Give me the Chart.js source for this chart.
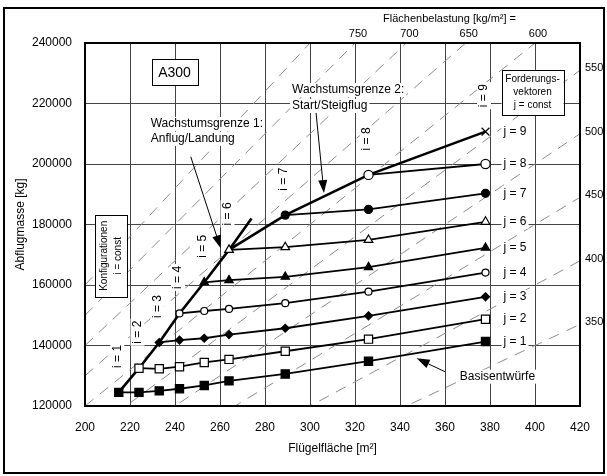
<!DOCTYPE html>
<html>
<head>
<meta charset="utf-8">
<script src="https://cdn.jsdelivr.net/npm/chart.js"></script>
<style>
  body { margin: 0; background: #fff; }
  #wrap { width: 607px; height: 476px; position: relative; }
</style>
</head>
<body>
<div id="wrap"><canvas id="grafico"></canvas></div>
<script>
// Konfigurationen i = 1..9 (Flügelfläche in m²)
const flaeche = [215, 224, 233, 242, 253, 264, 289, 326, 378];
// Abflugmasse je Forderungsvektor j (kg)
const masseJ1 = [124500, 124500, 125000, 125700, 126800, 128300, 130600, 134800, 141300];
const masseJ2 = [null, 132500, 132300, 133000, 134400, 135400, 138100, 142100, 148700];
const masseJ3 = [null, null, 141000, 141800, 142400, 143600, 145700, 149800, 156100];
const masseJ4 = [null, null, null, 150600, 151400, 152100, 154000, 157800, 164100];
const masseJ5 = [null, null, null, null, 160900, 161600, 162700, 165900, 172300];
const masseJ6 = [null, null, null, null, null, 171600, 172500, 174900, 180900];
const masseJ7 = [null, null, null, null, null, null, 183100, 185000, 190300];
const masseJ8 = [null, null, null, null, null, null, null, 196400, 200000];
const masseJ9 = [null, null, null, null, null, null, null, null, 210700];
// Wachstumsgrenzen
const grenze1S = [215, 224, 233, 242, 253, 264, 274];
const grenze1M = [124500, 132500, 141000, 150600, 160900, 171600, 182000];
const grenze2S = [264, 289, 326, 378];
const grenze2M = [171600, 183100, 196400, 210700];
// Flächenbelastung kg/m² (gestrichelte Linien)
const belastungen = [350, 400, 450, 500, 550, 600, 650, 700, 750, 800];
const belastungOben = [750, 700, 650, 600];
const belastungRechts = [550, 500, 450, 400, 350];
// Achsen
const xTicks = [200, 220, 240, 260, 280, 300, 320, 340, 360, 380, 400, 420];
const yTicks = [120000, 140000, 160000, 180000, 200000, 220000, 240000];

const FONT = "'Liberation Sans', Arial, sans-serif";
const serien = [masseJ1, masseJ2, masseJ3, masseJ4, masseJ5, masseJ6, masseJ7, masseJ8, masseJ9];
const marker = [
  { style: "rect", r: 5.8, voll: true },
  { style: "rect", r: 5.8, voll: false },
  { style: "rectRot", r: 4, voll: true },
  { style: "circle", r: 3.5, voll: false },
  { style: "triangle", r: 4.8, voll: true },
  { style: "triangle", r: 5, voll: false },
  { style: "circle", r: 4, voll: true },
  { style: "circle", r: 4.6, voll: false },
  { style: "crossRot", r: 5.5, voll: false },
];

//datasets
const jLinien = serien.map((werte, k) => ({
  label: "j = " + (k + 1),
  data: flaeche.map((s, i) => ({ x: s, y: werte[i] })).filter((p) => p.y !== null),
  borderColor: "#000",
  borderWidth: 1.8,
  pointStyle: marker[k].style,
  pointRadius: marker[k].r,
  pointBackgroundColor: marker[k].voll ? "#000" : "#fff",
  pointBorderColor: "#000",
  pointBorderWidth: 1.2,
  order: 1,
}));

const grenzLinien = [
  [grenze1S, grenze1M],
  [grenze2S, grenze2M],
].map(([sx, my]) => ({
  data: sx.map((s, i) => ({ x: s, y: my[i] })),
  borderColor: "#000",
  borderWidth: 2.6,
  pointRadius: 0,
  order: 2,
}));

const gestrichelt = belastungen.map((w) => ({
  data: [
    { x: 200, y: w * 200 },
    { x: 420, y: w * 420 },
  ],
  borderColor: "#8c8c8c",
  borderWidth: 1,
  borderDash: [11, 8],
  pointRadius: 0,
  order: 3,
}));

//texto con fondo blanco
const textWeiss = (ctx, txt, px, py, align) => {
  const w = ctx.measureText(txt).width;
  const h = parseFloat(ctx.font.match(/([\d.]+)px/)[1]);
  const left = align === "left" ? px : align === "right" ? px - w : px - w / 2;
  ctx.fillStyle = "#fff";
  ctx.fillRect(left - 2, py - h / 2 - 1, w + 4, h + 2);
  ctx.fillStyle = "#000";
  ctx.textAlign = align;
  ctx.textBaseline = "middle";
  ctx.fillText(txt, px, py);
};

const pfeil = (ctx, x0, y0, x1, y1) => {
  const ang = Math.atan2(y1 - y0, x1 - x0);
  const len = 13, hw = 4.5;
  ctx.strokeStyle = "#000";
  ctx.lineWidth = 1;
  ctx.beginPath();
  ctx.moveTo(x0, y0);
  ctx.lineTo(x1 - Math.cos(ang) * len, y1 - Math.sin(ang) * len);
  ctx.stroke();
  ctx.fillStyle = "#000";
  ctx.beginPath();
  ctx.moveTo(x1, y1);
  ctx.lineTo(x1 - Math.cos(ang) * len - Math.sin(ang) * hw, y1 - Math.sin(ang) * len + Math.cos(ang) * hw);
  ctx.lineTo(x1 - Math.cos(ang) * len + Math.sin(ang) * hw, y1 - Math.sin(ang) * len - Math.cos(ang) * hw);
  ctx.closePath();
  ctx.fill();
};

const box = (ctx, cx, cy, w, h) => {
  ctx.fillStyle = "#fff";
  ctx.fillRect(cx - w / 2, cy - h / 2, w, h);
  ctx.strokeStyle = "#000";
  ctx.lineWidth = 1;
  ctx.strokeRect(Math.round(cx - w / 2) + 0.5, Math.round(cy - h / 2) + 0.5, w, h);
};

const anotaciones = {
  id: "anotaciones",
  afterDatasetsDraw(chart) {
    const { ctx, chartArea: a, scales } = chart;
    const px = (s) => scales.x.getPixelForValue(s);
    const py = (m) => scales.y.getPixelForValue(m);
    ctx.save();

    // j labels
    ctx.font = `12px ${FONT}`;
    serien.forEach((werte, k) => {
      textWeiss(ctx, "j = " + (k + 1), px(flaeche[8]) + 18, py(werte[8]), "left");
    });

    // i labels (rotated)
    flaeche.forEach((s, i) => {
      const start = serien[i][i];
      ctx.save();
      ctx.translate(px(s) - 1.5, py(start) - 36);
      ctx.rotate(-Math.PI / 2);
      textWeiss(ctx, "i = " + (i + 1), 0, 0, "center");
      ctx.restore();
    });

    // Wachstumsgrenzen text
    textWeiss(ctx, "Wachstumsgrenze 1:", px(229.2), py(213200), "left");
    textWeiss(ctx, "Anflug/Landung", px(229.2), py(208300), "left");
    textWeiss(ctx, "Wachstumsgrenze 2:", px(292), py(224460), "left");
    textWeiss(ctx, "Start/Steigflug", px(292), py(219170), "left");
    textWeiss(ctx, "Basisentwürfe", px(383.3), py(129680), "center");

    // arrows
    pfeil(ctx, px(247), py(202400), px(260.3), py(172130));
    pfeil(ctx, px(302.7), py(216860), px(306.2), py(190410));
    pfeil(ctx, px(360), py(131330), px(347.4), py(135760));

    // A300
    box(ctx, px(239.8), py(230400), 46, 26);
    ctx.font = `14px ${FONT}`;
    ctx.fillStyle = "#000";
    ctx.textAlign = "center";
    ctx.textBaseline = "middle";
    ctx.fillText("A300", px(239.8), py(230400) + 1);

    // Forderungsvektoren
    const fx = px(398.9), fy = py(223640);
    box(ctx, fx, fy, 62, 45);
    ctx.font = `10px ${FONT}`;
    ctx.fillStyle = "#000";
    ctx.fillText("Forderungs-", fx, fy - 13);
    ctx.fillText("vektoren", fx, fy);
    ctx.fillText("j = const", fx, fy + 13);

    // Konfigurationen
    const kx = px(211.5), ky = py(169650);
    box(ctx, kx, ky, 32, 82);
    ctx.save();
    ctx.translate(kx, ky);
    ctx.rotate(-Math.PI / 2);
    ctx.fillStyle = "#000";
    ctx.font = `10px ${FONT}`;
    ctx.fillText("Konfigurationen", 0, -7);
    ctx.fillText("i = const", 0, 7);
    ctx.restore();

    // Flächenbelastung labels
    ctx.font = `11px ${FONT}`;
    ctx.fillStyle = "#000";
    ctx.textAlign = "center";
    ctx.textBaseline = "middle";
    belastungOben.forEach((w) => {
      ctx.fillText(String(w), px(240000 / w) + 3, a.top - 9);
    });
    ctx.fillText("Flächenbelastung [kg/m²] =", px(362), a.top - 24);
    ctx.textAlign = "left";
    belastungRechts.forEach((w) => {
      ctx.fillText(String(w), a.right + 5, py(w * 420) - 2);
    });

    // frames
    ctx.strokeStyle = "#000";
    ctx.lineWidth = 2;
    ctx.strokeRect(a.left, a.top, a.right - a.left, a.bottom - a.top);
    ctx.strokeRect(4, 8, 600, 465);
    ctx.restore();
  },
};

const grafico = document.getElementById("grafico");
const chart = new Chart(grafico, {
  type: "line",
  data: { datasets: [...jLinien, ...grenzLinien, ...gestrichelt] },
  options: {
    responsive: true,
    maintainAspectRatio: false,
    animation: false,
    events: [],
    layout: { padding: { left: 5, top: 43, right: 27, bottom: 5 } },
    plugins: { legend: { display: false }, tooltip: { enabled: false } },
    scales: {
      x: {
        type: "linear",
        min: 200,
        max: 420,
        afterBuildTicks: (s) => { s.ticks = xTicks.map((v) => ({ value: v })); },
        afterFit: (s) => { s.height = 65; },
        ticks: { font: { family: FONT, size: 12 }, color: "#000", padding: 14, callback: (v) => String(v) },
        grid: { color: "#444", lineWidth: 1, drawTicks: false },
        border: { color: "#000", width: 2 },
        title: { display: true, text: "Flügelfläche [m²]", color: "#000", font: { family: FONT, size: 12 }, padding: { top: 0, bottom: 15 } },
      },
      y: {
        type: "linear",
        min: 120000,
        max: 240000,
        afterBuildTicks: (s) => { s.ticks = yTicks.map((v) => ({ value: v })); },
        afterFit: (s) => { s.width = 80; },
        ticks: { font: { family: FONT, size: 12 }, color: "#000", padding: 13, callback: (v) => String(v) },
        grid: { color: "#444", lineWidth: 1, drawTicks: false },
        border: { color: "#000", width: 2 },
        title: { display: true, text: "Abflugmasse [kg]", color: "#000", font: { family: FONT, size: 12 }, padding: { top: 8, bottom: 0 } },
      },
    },
  },
  plugins: [anotaciones],
});
</script>
</body>
</html>
